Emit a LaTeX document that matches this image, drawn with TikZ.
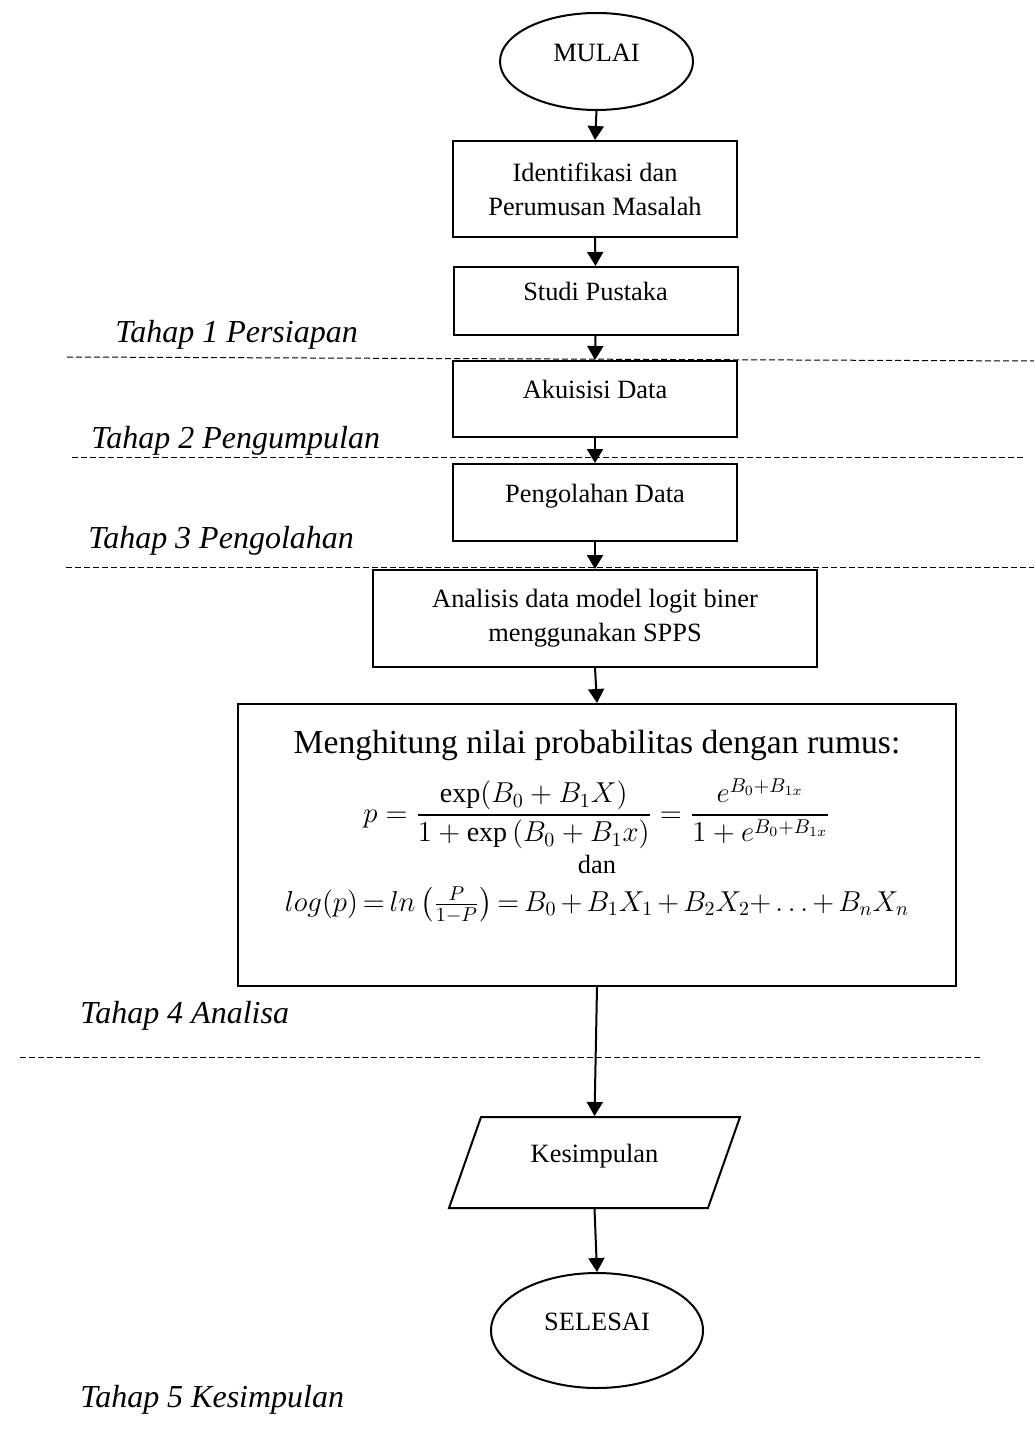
\documentclass[tikz,border=0pt]{standalone}
\usepackage{amsmath}
\usepackage{fontspec}
\setmainfont{Liberation Serif}
\usetikzlibrary{shapes.geometric,arrows.meta,positioning}

\begin{document}
\begin{tikzpicture}[x=0.5pt,y=-0.5pt,
    proses/.style={draw,line width=1pt,minimum width=142pt,align=center,font=\fontsize{13.2}{17}\selectfont},
    terminal/.style={ellipse,draw,line width=1pt,font=\fontsize{13.2}{17}\selectfont},
    satu/.style={text height=9pt,text depth=9pt},
    panah/.style={-{Triangle[width=8pt,length=7pt]},line width=1pt},
    batas/.style={dash pattern=on 3pt off 1.5pt,line width=0.5pt},
    tahap/.style={anchor=base west,inner sep=0pt,font=\fontsize{16}{19}\selectfont\itshape}]
  \useasboundingbox (0,0) rectangle (1034,1443);

  % flowchart
  \node[terminal,satu,minimum width=96.5pt,minimum height=48.5pt] (mulai) at (596.5,61.5) {MULAI};
  \node[proses,minimum height=48pt] (identifikasi) at (595,189) {Identifikasi dan\\Perumusan Masalah};
  \node[proses,satu,minimum height=34pt] (studi) at (595.5,301) {Studi Pustaka};
  \node[proses,satu,minimum height=38pt] (akuisisi) at (595,399) {Akuisisi Data};
  \node[proses,satu,minimum height=38.5pt] (pengolahan) at (595,502.5) {Pengolahan Data};
  \node[proses,minimum width=222pt,minimum height=48.5pt] (analisis) at (595,618.5) {Analisis data model logit biner\\menggunakan SPPS};
  \node[proses,minimum width=359pt,minimum height=141pt] (rumus) at (597,845) {};
  \node[below=10pt of rumus.north,align=center,font=\fontsize{14}{17}\selectfont] (isi) {%
    {\fontsize{16.8}{20}\selectfont Menghitung nilai probabilitas dengan rumus:}\\[8pt]
    $\displaystyle p=\frac{\exp(B_0+B_1X)}{1+\exp\,(B_0+B_1x)}=\frac{e^{B_0+B_{1x}}}{1+e^{B_0+B_{1x}}}$\\[2pt]
    {\fontsize{13.2}{17}\selectfont dan}\\[2pt]
    $\thickmuskip=3mu\medmuskip=2.5mu
     log(p)=ln\left(\frac{P}{1-P}\right)=B_0+B_1X_1+B_2X_2\!+\ldots+B_nX_n$};
  \node[trapezium,trapezium left angle=57,trapezium right angle=123,trapezium stretches body,
        draw,line width=1pt,satu,font=\fontsize{13.2}{17}\selectfont,
        minimum width=145.5pt,minimum height=45.5pt] (kesimpulan) at (594.5,1162.5) {Kesimpulan};
  \node[terminal,satu,minimum width=106pt,minimum height=57.5pt] (selesai) at (597,1330.5) {SELESAI};

  \draw[panah] (mulai.south) -- (identifikasi.north);
  \draw[panah] (identifikasi.south) -- (studi.north);
  \draw[panah] (studi.south) -- (akuisisi.north);
  \draw[panah] (akuisisi.south) -- (pengolahan.north);
  \draw[panah] (pengolahan.south) -- (analisis.north);
  \draw[panah] (analisis.south) -- (rumus.north);
  \draw[panah] (rumus.south) -- (kesimpulan.north);
  \draw[panah] (kesimpulan.south) -- (selesai.north);

  % batas tahap
  \draw[batas] (67,357) -- (1034,361);
  \draw[batas] (72,457) -- (1026,457);
  \draw[batas] (66,567) -- (1034,567);
  \draw[batas] (20,1057) -- (980,1057);

  \node[tahap] (tahap1) at (115,343) {Tahap 1 Persiapan};
  \node[tahap] (tahap2) at (91,448) {Tahap 2 Pengumpulan};
  \node[tahap] (tahap3) at (88,548) {Tahap 3 Pengolahan};
  \node[tahap] (tahap4) at (80,1023) {Tahap 4 Analisa};
  \node[tahap] (tahap5) at (80,1407) {Tahap 5 Kesimpulan};
\end{tikzpicture}
\end{document}
